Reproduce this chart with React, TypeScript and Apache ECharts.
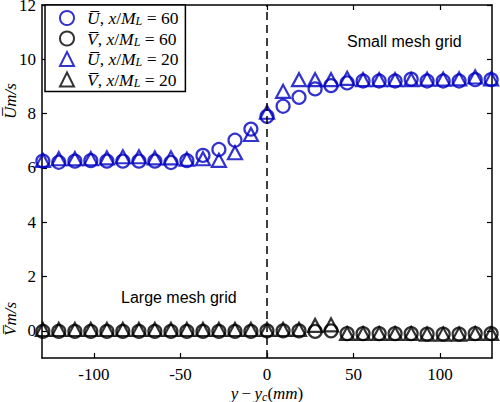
import React, { useEffect, useRef } from "react";
import * as echarts from "echarts";

const xPos = [
  -129.5, -120.3, -111, -101.8, -92.5, -83.3, -74, -64.8, -55.5, -46.3, -37, -27.8, -18.5, -9.3,
  0, 9.3, 18.5, 27.8, 37, 46.3, 55.5, 64.8, 74, 83.3, 92.5, 101.8, 111, 120.3, 129.5,
];
const u60 = [
  6.25, 6.21, 6.25, 6.27, 6.25, 6.25, 6.25, 6.25, 6.2, 6.27, 6.46, 6.68, 7.02, 7.43,
  7.9, 8.27, 8.6, 8.91, 9.03, 9.13, 9.2, 9.2, 9.2, 9.27, 9.2, 9.2, 9.2, 9.25, 9.25,
];
const v60 = [
  -0.02, -0.02, -0.02, -0.02, -0.02, -0.02, -0.02, -0.02, -0.02, -0.02, -0.02, -0.02, -0.02, -0.02,
  0.0, 0.0, 0.0, -0.02, 0.0, -0.1, -0.1, -0.1, -0.1, -0.1, -0.12, -0.12, -0.12, -0.1, -0.1,
];
const u20 = [
  6.28, 6.34, 6.34, 6.34, 6.37, 6.41, 6.41, 6.37, 6.37, 6.32, 6.34, 6.28, 6.56, 7.23,
  8.05, 8.82, 9.25, 9.25, 9.25, 9.3, 9.25, 9.25, 9.25, 9.25, 9.27, 9.27, 9.28, 9.35, 9.28,
];
const v20 = [
  0.05, 0.05, 0.05, 0.05, 0.05, 0.05, 0.05, 0.05, 0.05, 0.05, 0.05, 0.05, 0.05, 0.05,
  0.05, 0.05, 0.05, 0.2, 0.22, -0.1, -0.1, -0.1, -0.1, -0.1, -0.12, -0.12, -0.12, -0.1, -0.1,
];
const xTicks = [-100, -50, 0, 50, 100];
const yTicks = [0, 2, 4, 6, 8, 10, 12];
const seriesNames = ["U60", "V60", "U20", "V20"];
const legendLabels: Record<string, [string, string]> = {
  U60: ["U", "60"],
  V60: ["V", "60"],
  U20: ["U", "20"],
  V20: ["V", "20"],
};
const annotations = ["Small mesh grid", "Large mesh grid"];

const BLUE = "#0000c0";
const BLACK = "#000000";
const SERIF = "'Liberation Serif', serif";
const SANS = "'Liberation Sans', sans-serif";

function pairs(ys: number[]) {
  return xPos.map((x, i) => [x, ys[i]]);
}

function scatter(name: string, ys: number[], color: string, symbol: string, size: number | number[]) {
  return {
    name,
    type: "scatter",
    data: pairs(ys),
    symbol,
    symbolSize: size,
    itemStyle: { color: "rgba(0,0,0,0)", borderColor: color, borderWidth: 2.2 },
    emphasis: { disabled: true },
  };
}

const axisCommon = {
  type: "value",
  axisLine: { show: true, onZero: false, lineStyle: { color: BLACK, width: 1.5 } },
  splitLine: { show: false },
};

export default function App() {
  const ref = useRef<HTMLDivElement>(null);
  useEffect(() => {
    if (!ref.current) return;
    const chart = echarts.init(ref.current, undefined, { renderer: "svg" });
    const tickLabel = { fontFamily: SERIF, fontSize: 17, color: BLACK };
    const mathRich = {
      i: { fontFamily: SERIF, fontStyle: "italic", fontSize: 17, color: BLACK, lineHeight: 18 },
      n: { fontFamily: SERIF, fontSize: 17, color: BLACK, lineHeight: 18 },
      s: { fontFamily: SERIF, fontStyle: "italic", fontSize: 12, color: BLACK, lineHeight: 18, verticalAlign: "bottom" },
    };
    const series: any[] = [
      scatter(seriesNames[0], u60, BLUE, "circle", 13),
      scatter(seriesNames[1], v60, BLACK, "circle", 13),
      scatter(seriesNames[2], u20, BLUE, "triangle", [14, 13]),
      scatter(seriesNames[3], v20, BLACK, "triangle", [14, 13]),
    ];
    series[0].markLine = {
      silent: true,
      symbol: ["none", "none"],
      label: { show: false },
      lineStyle: { type: [8, 5], color: BLACK, width: 1.5 },
      data: [{ xAxis: 0 }],
    };
    chart.setOption({
      animation: false,
      backgroundColor: "#ffffff",
      textStyle: { fontFamily: SERIF },
      grid: { left: 42, right: 8, top: 5, bottom: 44, outerBoundsMode: "none" },
      xAxis: [
        {
          ...axisCommon,
          position: "bottom",
          min: -130,
          max: 130,
          axisTick: { show: true, inside: true, length: 5, customValues: xTicks, lineStyle: { color: BLACK, width: 1.2 } },
          axisLabel: { ...tickLabel, margin: 8, customValues: xTicks },
        },
        {
          ...axisCommon,
          position: "top",
          min: -130,
          max: 130,
          axisTick: { show: true, inside: true, length: 5, customValues: xTicks, lineStyle: { color: BLACK, width: 1.2 } },
          axisLabel: { show: false },
        },
      ],
      yAxis: [
        {
          ...axisCommon,
          position: "left",
          min: -1,
          max: 12,
          axisTick: { show: true, inside: true, length: 5, customValues: yTicks, lineStyle: { color: BLACK, width: 1.2 } },
          axisLabel: { ...tickLabel, margin: 6, customValues: yTicks },
        },
        {
          ...axisCommon,
          position: "right",
          min: -1,
          max: 12,
          axisTick: { show: true, inside: true, length: 5, customValues: yTicks, lineStyle: { color: BLACK, width: 1.2 } },
          axisLabel: { show: false },
        },
      ],
      legend: {
        orient: "vertical",
        left: 45,
        top: 5,
        padding: [4, 7, 3, 14],
        itemGap: 2.5,
        itemWidth: 14,
        itemHeight: 14,
        borderColor: BLACK,
        borderWidth: 1.5,
        backgroundColor: "#ffffff",
        selectedMode: false,
        data: seriesNames,
        formatter: (name: string) => {
          const [letter, num] = legendLabels[name];
          return `{g|}{i|${letter}\u0305}{n|, }{i|x}{n|/}{i|M}{s|L}{n| = ${num}}`;
        },
        textStyle: {
          fontFamily: SERIF,
          rich: {
            g: { width: 8 },
            i: { fontFamily: SERIF, fontStyle: "italic", fontSize: 17.5, color: BLACK, lineHeight: 18 },
            n: { fontFamily: SERIF, fontSize: 17.5, color: BLACK, lineHeight: 18 },
            s: { fontFamily: SERIF, fontStyle: "italic", fontSize: 12, color: BLACK, lineHeight: 18, verticalAlign: "bottom" },
          },
        },
      },
      graphic: [
        {
          type: "text",
          left: 347,
          top: 33,
          silent: true,
          style: { text: annotations[0], fontFamily: SANS, fontSize: 16, fill: BLACK },
        },
        {
          type: "text",
          left: 121,
          top: 289,
          silent: true,
          style: { text: annotations[1], fontFamily: SANS, fontSize: 16, fill: BLACK },
        },
        {
          type: "text",
          x: 10,
          y: 101,
          rotation: Math.PI / 2,
          silent: true,
          style: { text: "{i|U\u0305m/s}", rich: mathRich, align: "center", verticalAlign: "middle" },
        },
        {
          type: "text",
          x: 10,
          y: 319,
          rotation: Math.PI / 2,
          silent: true,
          style: { text: "{i|V\u0305m/s}", rich: mathRich, align: "center", verticalAlign: "middle" },
        },
        {
          type: "text",
          x: 267,
          y: 393.5,
          silent: true,
          style: {
            text: "{i|y} {n|\u2212} {i|y}{s|c}{n|(}{i|mm}{n|)}",
            rich: mathRich,
            align: "center",
            verticalAlign: "middle",
          },
        },
      ],
      series,
    });
    return () => chart.dispose();
  }, []);
  return <div ref={ref} style={{ position: "fixed", left: 0, top: 0, width: 500, height: 402 }} />;
}
